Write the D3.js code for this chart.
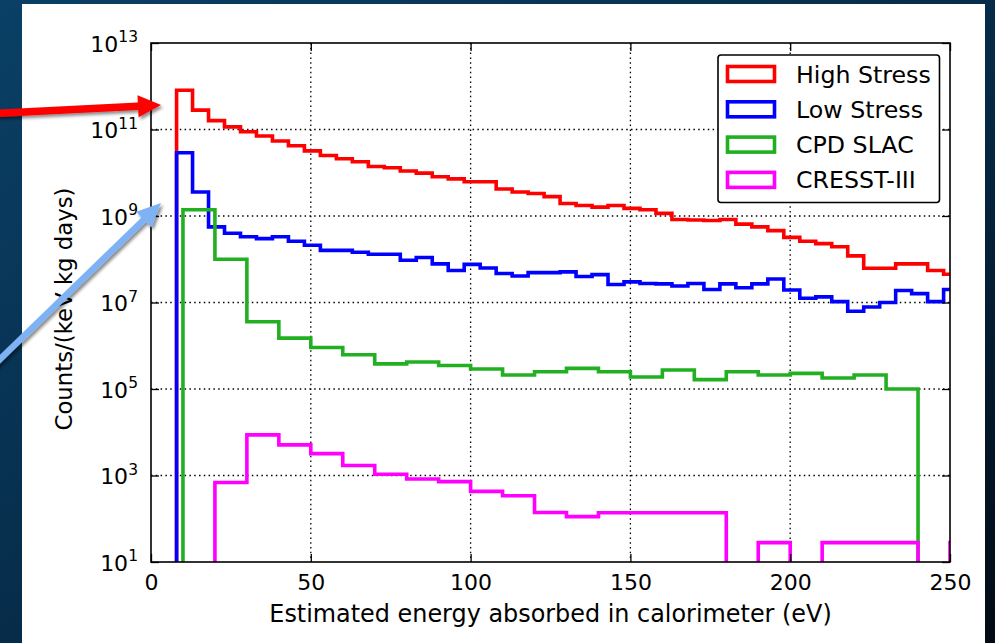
<!DOCTYPE html>
<html>
<head>
<meta charset="utf-8">
<script src="https://cdn.jsdelivr.net/npm/d3@7"></script>
<style>
  html, body { margin: 0; padding: 0; background: #06182a; }
  svg { display: block; }
  text { font-family: "DejaVu Sans", sans-serif; fill: #000; }
</style>
</head>
<body>
<svg id="chart" width="995" height="643"></svg>
<script>
// ---------------- data ----------------
const xTicks = [0, 50, 100, 150, 200, 250];
const yTickExponents = [1, 3, 5, 7, 9, 11, 13];

const stressBinStart = 8, stressBinWidth = 5;
const highStress = [8.1e11, 2.8e11, 1.6e11, 1.15e11, 8.9e10, 7.1e10, 5.4e10, 4.2e10, 3.2e10, 2.5e10,
  2.1e10, 1.8e10, 1.4e10, 1.3e10, 1.1e10, 9.8e9, 8.1e9, 7.2e9, 6.2e9, 6.2e9,
  4.2e9, 3.6e9, 3.3e9, 2.8e9, 1.95e9, 1.75e9, 1.6e9, 1.75e9, 1.5e9, 1.4e9,
  1.15e9, 8.3e8, 8.1e8, 7.9e8, 8.3e8, 6.5e8, 5.6e8, 4.6e8, 3.2e8, 2.6e8,
  2.3e8, 1.95e8, 1.2e8, 6.2e7, 6.2e7, 7.8e7, 7.8e7, 5.5e7, 4.5e7];
const lowStress = [2.9e10, 3.6e9, 5.6e8, 4.0e8, 3.3e8, 3.0e8, 3.3e8, 2.6e8, 2.1e8, 1.6e8,
  1.6e8, 1.45e8, 1.3e8, 1.3e8, 9.5e7, 1.1e8, 7.8e7, 5.5e7, 7.6e7, 6.3e7,
  4.7e7, 4.1e7, 4.9e7, 4.9e7, 5.1e7, 4.0e7, 4.4e7, 2.6e7, 3.0e7, 2.75e7,
  2.7e7, 2.4e7, 2.75e7, 2.0e7, 2.7e7, 2.2e7, 2.7e7, 3.5e7, 1.95e7, 1.25e7,
  1.35e7, 1.05e7, 6.3e6, 7.9e6, 1.0e7, 1.9e7, 1.6e7, 1.05e7, 2.0e7];

const slacBinStart = 10, slacBinWidth = 10;
const cpdSlac = [1.4e9, 1.0e8, 3.6e6, 1.5e6, 9.1e5, 6.2e5, 3.8e5, 4.2e5, 3.5e5, 2.9e5,
  2.1e5, 2.5e5, 3.0e5, 2.5e5, 1.9e5, 2.75e5, 1.65e5, 2.5e5, 2.1e5, 2.3e5,
  1.8e5, 2.1e5, 1.0e5];

const cresstBinStart = 20, cresstBinWidth = 10;
const cresst = [690, 8700, 5100, 3200, 1700, 1070, 830, 720, 430, 340,
  140, 112, 138, 138, 138, 138, 0, 28, 0, 28,
  28, 28, 0, 28];

const seriesNames = ["High Stress", "Low Stress", "CPD SLAC", "CRESST-III"];
const seriesColors = ["#ff0000", "#0000ff", "#22b022", "#ff00ff"];

const xLabel = "Estimated energy absorbed in calorimeter (eV)";
const yLabel = "Counts/(keV kg days)";

// ---------------- layout ----------------
const W = 995, H = 643;
const plot = { left: 151, right: 950, top: 43, bottom: 562 };

const svg = d3.select("#chart");
const defs = svg.append("defs");

const bg = defs.append("linearGradient").attr("id", "bg")
  .attr("x1", "0%").attr("y1", "0%").attr("x2", "100%").attr("y2", "100%");
bg.append("stop").attr("offset", "0%").attr("stop-color", "#0a4066");
bg.append("stop").attr("offset", "55%").attr("stop-color", "#062a47");
bg.append("stop").attr("offset", "100%").attr("stop-color", "#020b15");

const shadow = defs.append("filter").attr("id", "shadow")
  .attr("x", "-20%").attr("y", "-20%").attr("width", "140%").attr("height", "140%");
shadow.append("feDropShadow").attr("dx", 2).attr("dy", 2.5)
  .attr("stdDeviation", 1.8).attr("flood-color", "#000").attr("flood-opacity", 0.45);

defs.append("clipPath").attr("id", "plotClip").append("rect")
  .attr("x", plot.left).attr("y", plot.top)
  .attr("width", plot.right - plot.left).attr("height", plot.bottom - plot.top);

svg.append("rect").attr("width", W).attr("height", H).attr("fill", "url(#bg)");
svg.append("rect").attr("x", 22).attr("y", 4).attr("width", 963).attr("height", H - 4)
  .attr("fill", "#ffffff");

const x = d3.scaleLinear().domain([0, 250]).range([plot.left, plot.right]);
const y = d3.scaleLog().domain([1e1, 1e13]).range([plot.bottom, plot.top]);
const yTicks = yTickExponents.map(e => Math.pow(10, e));

// grid
const grid = svg.append("g").attr("stroke", "#000").attr("stroke-width", 1.3)
  .attr("stroke-dasharray", "1.5,3.3");
grid.selectAll("line.gx").data(xTicks.slice(1, -1)).enter().append("line")
  .attr("x1", d => x(d)).attr("x2", d => x(d))
  .attr("y1", plot.top).attr("y2", plot.bottom);
grid.selectAll("line.gy").data(yTicks.slice(1, -1)).enter().append("line")
  .attr("x1", plot.left).attr("x2", plot.right)
  .attr("y1", d => y(d)).attr("y2", d => y(d));

// histogram step paths
function stepPath(start, width, values) {
  const yv = v => (v > 0 ? y(v) : plot.bottom + 20);
  const p = d3.path();
  p.moveTo(x(start), plot.bottom + 20);
  values.forEach((v, i) => {
    const e0 = start + i * width, e1 = start + (i + 1) * width;
    p.lineTo(x(e0), yv(v));
    p.lineTo(x(e1), yv(v));
  });
  p.lineTo(x(start + values.length * width), plot.bottom + 20);
  return p.toString();
}

const series = [
  { start: stressBinStart, width: stressBinWidth, values: highStress },
  { start: stressBinStart, width: stressBinWidth, values: lowStress },
  { start: slacBinStart, width: slacBinWidth, values: cpdSlac },
  { start: cresstBinStart, width: cresstBinWidth, values: cresst }
];

const marks = svg.append("g").attr("clip-path", "url(#plotClip)");
marks.selectAll("path").data(series).enter().append("path")
  .attr("d", d => stepPath(d.start, d.width, d.values))
  .attr("fill", "none")
  .attr("stroke", (d, i) => seriesColors[i])
  .attr("stroke-width", 3.6)
  .attr("stroke-linejoin", "miter");

// axes (ticks inward)
const fontSize = 22;
function styleAxis(g) {
  g.select(".domain").remove();
  g.selectAll(".tick line").attr("stroke", "#000").attr("stroke-width", 1.3);
}
const axL = svg.append("g").attr("transform", `translate(${plot.left},0)`)
  .call(d3.axisLeft(y).tickValues(yTicks).tickSize(-8).tickPadding(13).tickFormat(() => ""));
styleAxis(axL);
axL.selectAll(".tick text").each(function (d) {
  const t = d3.select(this).attr("font-size", fontSize).attr("dy", null)
    .attr("y", 8).attr("font-family", "DejaVu Sans").attr("fill", "#000");
  t.text(null);
  t.append("tspan").text("10");
  t.append("tspan").attr("font-size", 15.5).attr("dy", -9.5).text(String(Math.round(Math.log10(d))));
});
const axR = svg.append("g").attr("transform", `translate(${plot.right},0)`)
  .call(d3.axisRight(y).tickValues(yTicks).tickSize(-8).tickFormat(() => ""));
styleAxis(axR);
const axB = svg.append("g").attr("transform", `translate(0,${plot.bottom})`)
  .call(d3.axisBottom(x).tickValues(xTicks).tickSize(-8).tickPadding(12.5));
styleAxis(axB);
axB.selectAll(".tick text").attr("font-size", fontSize).attr("font-family", "DejaVu Sans").attr("fill", "#000");
const axT = svg.append("g").attr("transform", `translate(0,${plot.top})`)
  .call(d3.axisTop(x).tickValues(xTicks).tickSize(-8).tickFormat(() => ""));
styleAxis(axT);

// frame
svg.append("rect").attr("x", plot.left).attr("y", plot.top)
  .attr("width", plot.right - plot.left).attr("height", plot.bottom - plot.top)
  .attr("fill", "none").attr("stroke", "#000").attr("stroke-width", 1.6);

// axis labels
svg.append("text").attr("x", (plot.left + plot.right) / 2).attr("y", 622)
  .attr("text-anchor", "middle").attr("font-size", 23.9).text(xLabel);
svg.append("text").attr("transform", "translate(72,309) rotate(-90)")
  .attr("text-anchor", "middle").attr("font-size", 22.8).text(yLabel);

// legend
const lg = svg.append("g");
lg.append("rect").attr("x", 718).attr("y", 55).attr("width", 221.5).attr("height", 147.5)
  .attr("rx", 3).attr("fill", "#fff").attr("stroke", "#000").attr("stroke-width", 1.6);
seriesNames.forEach((name, i) => {
  const cy = 74 + i * 35.3;
  lg.append("rect").attr("x", 727.5).attr("y", cy - 7.5).attr("width", 47).attr("height", 15)
    .attr("fill", "#fff").attr("stroke", seriesColors[i]).attr("stroke-width", 3.6);
  lg.append("text").attr("x", 796).attr("y", cy + 8.5).attr("font-size", 23.7).text(name);
});

// annotation arrows
function arrow(x0, y0, x1, y1, sw, hl, hw, color) {
  const a = Math.atan2(y1 - y0, x1 - x0);
  const ux = Math.cos(a), uy = Math.sin(a), nx = -uy, ny = ux;
  const bx = x1 - ux * hl, by = y1 - uy * hl;
  const pts = [
    [x0 + nx * sw / 2, y0 + ny * sw / 2],
    [bx + nx * sw / 2, by + ny * sw / 2],
    [bx + nx * hw / 2, by + ny * hw / 2],
    [x1, y1],
    [bx - nx * hw / 2, by - ny * hw / 2],
    [bx - nx * sw / 2, by - ny * sw / 2],
    [x0 - nx * sw / 2, y0 - ny * sw / 2]
  ];
  svg.append("polygon").attr("points", pts.map(p => p.join(",")).join(" "))
    .attr("fill", color).attr("filter", "url(#shadow)");
}
arrow(-6, 113.5, 161, 105, 7.5, 23, 22, "#ff0000");
arrow(-6, 365, 161, 203, 6.5, 24, 22, "#7fb2f5");
</script>
</body>
</html>
